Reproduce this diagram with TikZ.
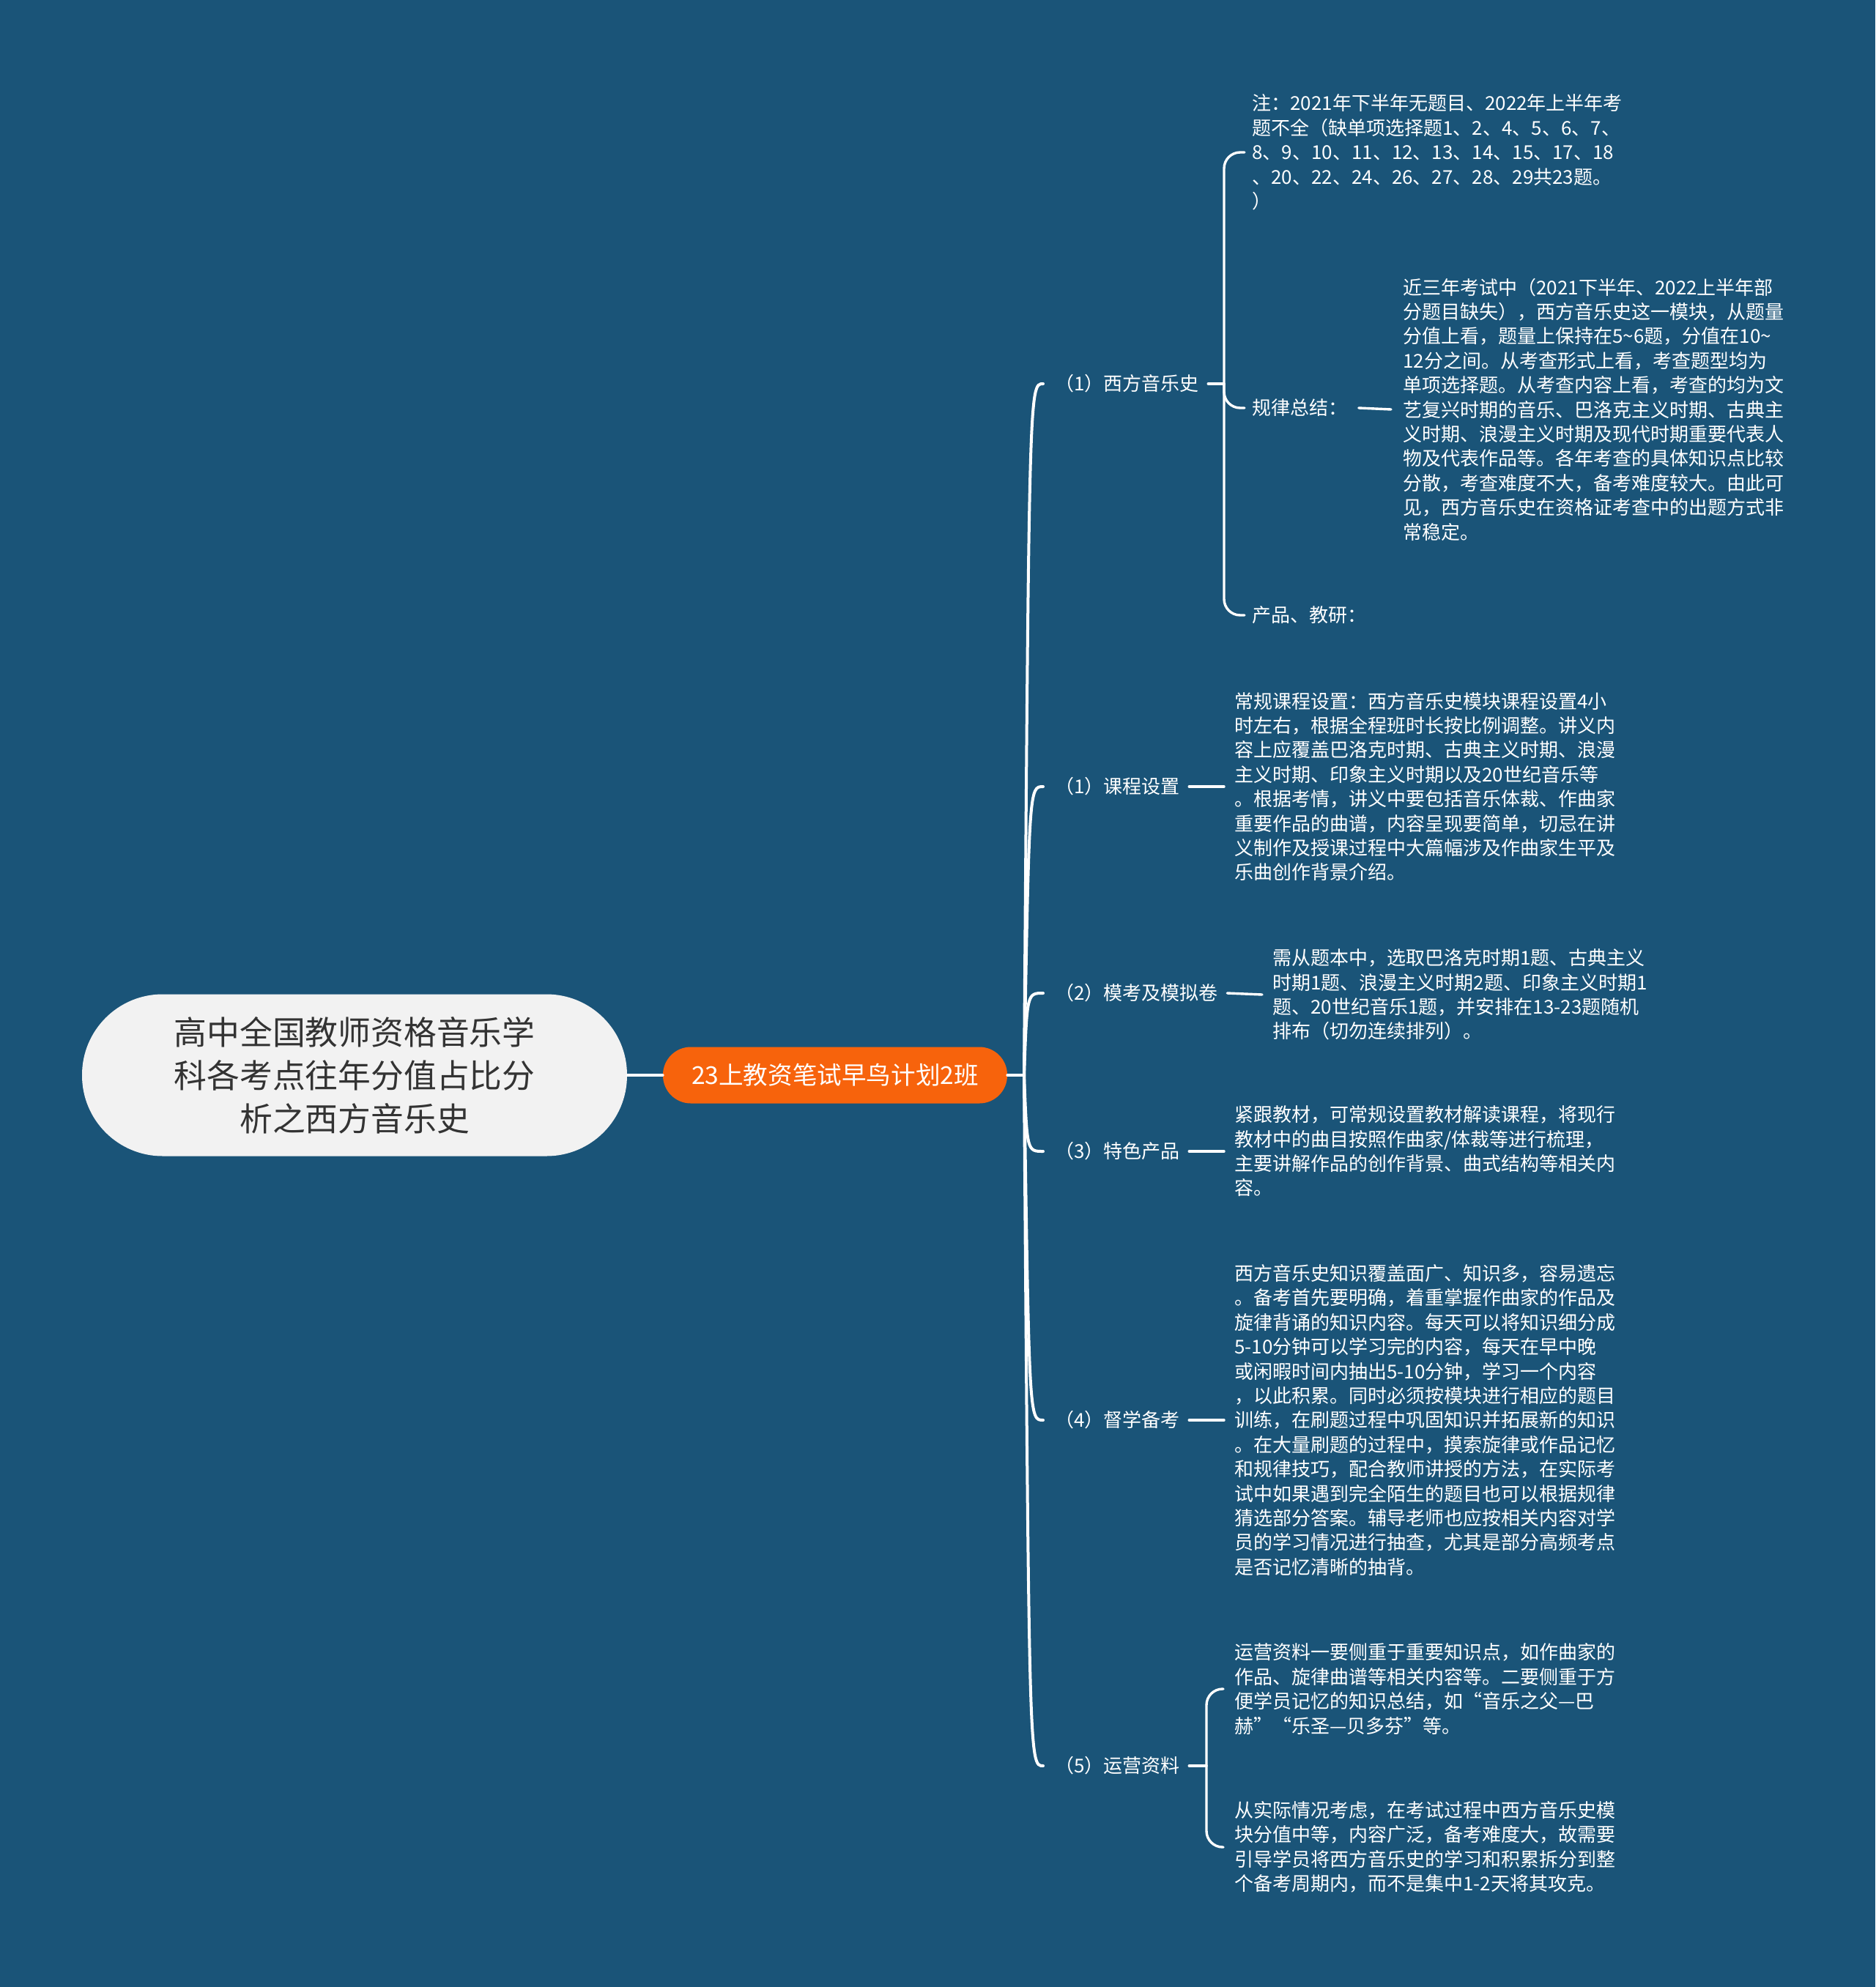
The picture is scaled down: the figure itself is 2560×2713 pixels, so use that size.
\documentclass[tikz,border=0pt]{standalone}
\usepackage{fontspec}
\setmainfont{Noto Sans CJK SC}
\definecolor{bgblue}{HTML}{1A5478}
\definecolor{rootfill}{HTML}{F2F2F2}
\definecolor{roottext}{HTML}{333333}
\definecolor{centerorange}{HTML}{F7630C}
\begin{document}
\begin{tikzpicture}[x=0.5pt,y=-0.5pt,
  rootbox/.style={fill=rootfill, text=roottext, rounded corners=55pt,
    minimum width=372pt, minimum height=110.5pt, inner sep=0pt, align=center,
    font=\fontsize{22.4}{29.4}\selectfont},
  centerbox/.style={fill=centerorange, text=white, rounded corners=19pt,
    minimum width=235pt, minimum height=38.5pt, inner sep=0pt,
    font=\fontsize{16.8}{20}\selectfont},
  lbl/.style={font=\fontsize{13}{16.7}\selectfont, text=white, inner sep=0pt, anchor=west},
  leaf/.style={lbl, align=left},
  conn/.style={draw=white, line width=1.7pt, line cap=round},
  spine/.style={draw=white, line width=2pt, line cap=round}
]
\fill[bgblue] (0,0) rectangle (2560,2713);
\useasboundingbox (0,0) rectangle (2560,2713);

% main nodes
\node[rootbox] (root) at (484,1468) {高中全国教师资格音乐学\\科各考点往年分值占比分\\析之西方音乐史};
\node[centerbox] (c) at (1140,1468) {23上教资笔试早鸟计划2班};

% branch labels
\node[lbl] (b1) at (1440,524) {（1）西方音乐史};
\node[lbl] (b2) at (1440,1074) {（1）课程设置};
\node[lbl] (b3) at (1440,1356) {（2）模考及模拟卷};
\node[lbl] (b4) at (1440,1572) {（3）特色产品};
\node[lbl] (b5) at (1440,1939) {（4）督学备考};
\node[lbl] (b6) at (1440,2411) {（5）运营资料};

% children of b1
\node[leaf] (n1) at (1709,208) {注：2021年下半年无题目、2022年上半年考\\题不全（缺单项选择题1、2、4、5、6、7、\\8、9、10、11、12、13、14、15、17、18\\、20、22、24、26、27、28、29共23题。\\）};
\node[lbl] (n2) at (1709,557) {规律总结：};
\node[leaf] (n2a) at (1915,559) {近三年考试中（2021下半年、2022上半年部\\分题目缺失），西方音乐史这一模块，从题量\\分值上看，题量上保持在5\textasciitilde 6题，分值在10\textasciitilde\\12分之间。从考查形式上看，考查题型均为\\单项选择题。从考查内容上看，考查的均为文\\艺复兴时期的音乐、巴洛克主义时期、古典主\\义时期、浪漫主义时期及现代时期重要代表人\\物及代表作品等。各年考查的具体知识点比较\\分散，考查难度不大，备考难度较大。由此可\\见，西方音乐史在资格证考查中的出题方式非\\常稳定。};
\node[lbl] (n3) at (1709,840) {产品、教研：};

% leaves of other branches
\node[leaf] (l2) at (1685,1074) {常规课程设置：西方音乐史模块课程设置4小\\时左右，根据全程班时长按比例调整。讲义内\\容上应覆盖巴洛克时期、古典主义时期、浪漫\\主义时期、印象主义时期以及20世纪音乐等\\。根据考情，讲义中要包括音乐体裁、作曲家\\重要作品的曲谱，内容呈现要简单，切忌在讲\\义制作及授课过程中大篇幅涉及作曲家生平及\\乐曲创作背景介绍。};
\node[leaf] (l3) at (1737,1358) {需从题本中，选取巴洛克时期1题、古典主义\\时期1题、浪漫主义时期2题、印象主义时期1\\题、20世纪音乐1题，并安排在13-23题随机\\排布（切勿连续排列）。};
\node[leaf] (l4) at (1685,1572) {紧跟教材，可常规设置教材解读课程，将现行\\教材中的曲目按照作曲家/体裁等进行梳理，\\主要讲解作品的创作背景、曲式结构等相关内\\容。};
\node[leaf] (l5) at (1685,1939) {西方音乐史知识覆盖面广、知识多，容易遗忘\\。备考首先要明确，着重掌握作曲家的作品及\\旋律背诵的知识内容。每天可以将知识细分成\\5-10分钟可以学习完的内容，每天在早中晚\\或闲暇时间内抽出5-10分钟，学习一个内容\\，以此积累。同时必须按模块进行相应的题目\\训练，在刷题过程中巩固知识并拓展新的知识\\。在大量刷题的过程中，摸索旋律或作品记忆\\和规律技巧，配合教师讲授的方法，在实际考\\试中如果遇到完全陌生的题目也可以根据规律\\猜选部分答案。辅导老师也应按相关内容对学\\员的学习情况进行抽查，尤其是部分高频考点\\是否记忆清晰的抽背。};
\node[leaf] (l6a) at (1685,2306) {运营资料一要侧重于重要知识点，如作曲家的\\作品、旋律曲谱等相关内容等。二要侧重于方\\便学员记忆的知识总结，如“音乐之父—巴\\赫”“乐圣—贝多芬”等。};
\node[leaf] (l6b) at (1685,2522) {从实际情况考虑，在考试过程中西方音乐史模\\块分值中等，内容广泛，备考难度大，故需要\\引导学员将西方音乐史的学习和积累拆分到整\\个备考周期内，而不是集中1-2天将其攻克。};

% root to center
\draw[spine] (root.east) -- (c.west);
\coordinate (sp) at (1398,1468);
\draw[spine] (c.east) -- (sp);

% spine curves
\draw[spine] (sp) .. controls (1405,524) and (1405,524) .. ([xshift=-8pt]b1.west);
\draw[spine] (sp) .. controls (1405,1074) and (1405,1074) .. ([xshift=-8pt]b2.west);
\draw[spine] (sp) .. controls (1402,1356) and (1402,1356) .. ([xshift=-8pt]b3.west);
\draw[spine] (sp) .. controls (1402,1572) and (1402,1572) .. ([xshift=-8pt]b4.west);
\draw[spine] (sp) .. controls (1405,1939) and (1405,1939) .. ([xshift=-8pt]b5.west);
\draw[spine] (sp) .. controls (1405,2411) and (1405,2411) .. ([xshift=-8pt]b6.west);

% branch 1 bracket
\coordinate (k1) at (1671,524);
\draw[conn] ([xshift=6pt]b1.east) -- (k1);
\draw[conn, rounded corners=11pt] (k1) |- ([xshift=-5pt]n1.west);
\draw[conn, rounded corners=11pt] (k1) |- ([xshift=-5pt]n2.west);
\draw[conn, rounded corners=11pt] (k1) |- ([xshift=-5pt]n3.west);
\draw[conn] ([xshift=7.5pt]n2.east) -- ([xshift=-8pt]n2a.west);

% single-leaf branches
\draw[conn] ([xshift=6pt]b2.east) -- ([xshift=-7pt]l2.west);
\draw[conn] ([xshift=6pt]b3.east) -- ([xshift=-7pt]l3.west);
\draw[conn] ([xshift=6pt]b4.east) -- ([xshift=-7pt]l4.west);
\draw[conn] ([xshift=6pt]b5.east) -- ([xshift=-7pt]l5.west);

% branch 5 bracket
\coordinate (k6) at (1647,2411);
\draw[conn] ([xshift=6pt]b6.east) -- (k6);
\draw[conn, rounded corners=11pt] (k6) |- ([xshift=-7.5pt]l6a.west);
\draw[conn, rounded corners=11pt] (k6) |- ([xshift=-7.5pt]l6b.west);
\end{tikzpicture}
\end{document}
